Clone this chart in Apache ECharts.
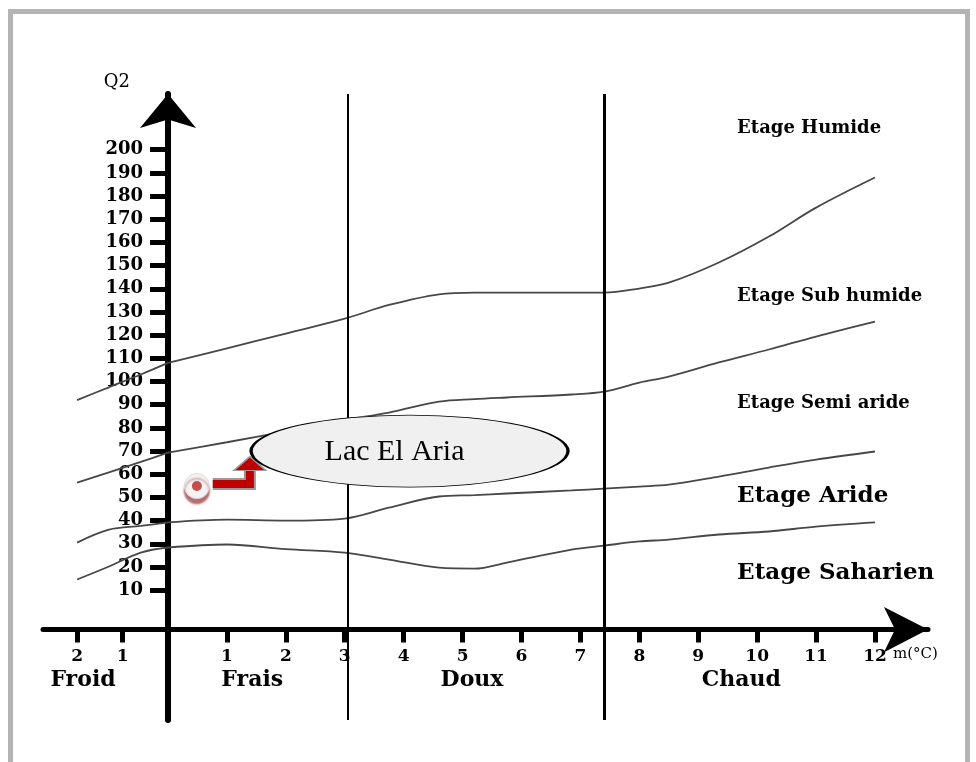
<!DOCTYPE html>
<html>
<head>
<meta charset="utf-8">
<title>Climagramme d'Emberger - Lac El Aria</title>
<script src="https://cdn.jsdelivr.net/npm/echarts@6.0.0/dist/echarts.min.js"></script>
<style>
    html, body { margin: 0; padding: 0; background: #fff; }
    #frame {
        position: absolute;
        left: 8px;
        top: 9px;
        width: 962px;
        height: 800px;
        border: 5px solid #b4b4b4;
        box-sizing: border-box;
    }
    #chart { position: absolute; left: 0; top: 0; width: 976px; height: 762px; }
</style>
</head>
<body>
<div id="frame"></div>
<div id="chart"></div>
<script>
/** m (°C) where the limit curves were read */
const mSamples = [-2, -1.3, -0.6, 0, 1, 2, 3, 3.75, 4.6, 5.2, 5.75, 6.85, 7.4, 8, 8.5, 9.35, 10.2, 11, 12];
/** Q2 of each limit between two stages */
const limitHumideSubHumide = [92, 97.5, 103, 108, 114.3, 120.7, 127.1, 133, 137.6, 138.3, 138.3, 138.3, 138.3, 140.1, 142.6, 151.3, 162.5, 175, 188];
const limitSubHumideSemiAride = [56.4, 60.8, 65.3, 69.3, 73.8, 78.5, 83.4, 86.6, 91.3, 92.4, 93.1, 94.4, 95.6, 99.5, 102.1, 108.2, 113.8, 119.4, 125.8];
const limitSemiArideAride = [30.5, 36.1, 37.7, 39.2, 40.4, 40.0, 40.9, 45.6, 50.4, 51.0, 51.7, 53.0, 53.8, 54.7, 55.5, 59.0, 62.9, 66.3, 69.8];
const limitArideSaharien = [14.6, 20.2, 26.2, 28.4, 29.7, 27.7, 26.2, 23.2, 19.7, 19.3, 21.9, 27.5, 29.2, 31.0, 31.8, 34.0, 35.3, 37.4, 39.2];

/** ticks */
const q2Ticks = [10, 20, 30, 40, 50, 60, 70, 80, 90, 100, 110, 120, 130, 140, 150, 160, 170, 180, 190, 200];
const mTicksCold = [-2, -1];
const mTicksWarm = [1, 2, 3, 4, 5, 6, 7, 8, 9, 10, 11, 12];

/** thermal variants (hiver) */
const thermalLimits = [3.05, 7.4];
const winterNames = ["Froid", "Frais", "Doux", "Chaud"];
const winterCentres = [-1.87, 1.43, 5.16, 9.73];

/** bioclimatic stages */
const stageNames = ["Etage Humide", "Etage Sub humide", "Etage Semi aride", "Etage Aride", "Etage Saharien"];
const stageQ2 = [209.3, 136.9, 90.7, 50.6, 17.4];

/** station */
const stationName = "Lac El Aria";
const stationPoint = [0.49, 54.9];
const calloutPath = [[0.76, 55.8], [1.39, 55.8], [1.39, 62]];
const calloutTip = [1.39, 64.6];
const calloutBubble = [4.1, 70];

// axis ranges
const q2Min = -46;
const q2Max = 224;
const q2OfMAxis = -7;     // the m axis crosses Q2 here
const stageLabelM = 9.66;
const winterLabelQ2 = -28.7;

const gridTop = 94;
const gridBottom = 42;
const plotHeight = 762 - gridTop - gridBottom;
// lift the m axis from the bottom of the plot up to Q2 = q2OfMAxis
const mAxisOffset = -((q2OfMAxis - q2Min) / (q2Max - q2Min)) * plotHeight;

const serifBold = {
    fontFamily: "DejaVu Serif",
    fontWeight: "bold",
    color: "#000",
};
const curveColor = "#474747";

const limits = [
    limitHumideSubHumide,
    limitSubHumideSemiAride,
    limitSemiArideAride,
    limitArideSaharien,
];

function pairs(values, keep) {
    const out = [];
    mSamples.forEach((m, i) => {
        if (keep(m)) out.push([m, values[i]]);
    });
    return out;
}

const series = [];

limits.forEach((values) => {
    // m < 0 part (left panel)
    series.push({
        type: "line",
        xAxisIndex: 0,
        yAxisIndex: 0,
        data: pairs(values, (m) => m <= 0),
        smooth: 0.35,
        symbol: "none",
        silent: true,
        lineStyle: { color: curveColor, width: 1.8 },
    });
    // m > 0 part
    series.push({
        type: "line",
        xAxisIndex: 1,
        yAxisIndex: 1,
        data: pairs(values, (m) => m >= 0),
        smooth: 0.35,
        symbol: "none",
        silent: true,
        lineStyle: { color: curveColor, width: 1.8 },
    });
});

// stage names + vertical limits of the thermal variants
series.push({
    type: "scatter",
    xAxisIndex: 1,
    yAxisIndex: 1,
    symbolSize: 0,
    silent: true,
    itemStyle: { opacity: 1 },
    data: stageNames.map((name, i) => ({
        name: name,
        value: [stageLabelM, stageQ2[i]],
        label: { fontSize: i >= 3 ? 23 : 18 },
    })),
    label: {
        show: true,
        position: "inside",
        align: "left",
        formatter: "{b}",
        ...serifBold,
    },
    markLine: {
        silent: true,
        symbol: "none",
        label: { show: false },
        lineStyle: { color: "#000", type: "solid", opacity: 1 },
        data: thermalLimits.map((m, i) => ({
            xAxis: m,
            lineStyle: { width: i === 0 ? 2 : 3 },
        })),
    },
});

// winter names
winterNames.forEach((name, i) => {
    const cold = winterCentres[i] < 0;
    series.push({
        type: "scatter",
        xAxisIndex: cold ? 0 : 1,
        yAxisIndex: cold ? 0 : 1,
        symbolSize: 0,
        silent: true,
        itemStyle: { opacity: 1 },
        data: [{ name: name, value: [winterCentres[i], winterLabelQ2] }],
        label: {
            show: true,
            position: "inside",
            formatter: "{b}",
            fontSize: 22,
            ...serifBold,
        },
    });
});

// callout arrow
series.push({
    type: "line",
    xAxisIndex: 1,
    yAxisIndex: 1,
    data: calloutPath,
    symbol: "none",
    silent: true,
    z: 4,
    lineStyle: { color: "#9a9a9a", width: 12, cap: "butt", join: "miter" },
});
series.push({
    type: "line",
    xAxisIndex: 1,
    yAxisIndex: 1,
    data: calloutPath,
    symbol: "none",
    silent: true,
    z: 4,
    lineStyle: { color: "#c00000", width: 8, cap: "butt", join: "miter" },
});
series.push({
    type: "scatter",
    xAxisIndex: 1,
    yAxisIndex: 1,
    symbol: "triangle",
    symbolSize: [32, 14],
    silent: true,
    z: 4,
    data: [calloutTip],
    itemStyle: { color: "#c00000", borderColor: "#9a9a9a", borderWidth: 1.5, opacity: 1 },
});

// station point
series.push({
    type: "scatter",
    xAxisIndex: 1,
    yAxisIndex: 1,
    symbol: "circle",
    symbolSize: 25,
    silent: true,
    z: 4,
    data: [stationPoint],
    itemStyle: {
        color: "#f3f3f3",
        borderColor: "#dcdcdc",
        borderWidth: 1,
        opacity: 1,
        shadowColor: "rgba(160, 60, 60, 0.75)",
        shadowOffsetY: 5,
        shadowBlur: 2,
    },
});
series.push({
    type: "scatter",
    xAxisIndex: 1,
    yAxisIndex: 1,
    symbol: "circle",
    symbolSize: 10,
    silent: true,
    z: 5,
    data: [stationPoint],
    itemStyle: { color: "#c44e4e", opacity: 1 },
});

// bubble
series.push({
    type: "scatter",
    xAxisIndex: 1,
    yAxisIndex: 1,
    symbol: "circle",
    symbolSize: [317, 72],
    silent: true,
    z: 6,
    data: [{ name: stationName, value: calloutBubble }],
    itemStyle: { color: "#f0f0f0", borderColor: "#000", borderWidth: 1.6, opacity: 1 },
    label: {
        show: true,
        position: "inside",
        formatter: "{b}",
        offset: [-15, 1],
        fontFamily: "Liberation Serif",
        fontSize: 30,
        color: "#000",
    },
});

const hiddenY = (grid) => ({
    gridIndex: grid,
    type: "value",
    min: q2Min,
    max: q2Max,
    show: false,
});

const option = {
    animation: false,
    backgroundColor: "transparent",
    grid: [
        { left: 43, top: gridTop, width: 125, bottom: gridBottom, containLabel: false, outerBoundsMode: "none" },
        { left: 168, top: gridTop, width: 760, bottom: gridBottom, containLabel: false, outerBoundsMode: "none" },
    ],
    xAxis: [
        {
            gridIndex: 0,
            type: "value",
            min: -2.75,
            max: 0,
            position: "bottom",
            offset: mAxisOffset,
            splitLine: { show: false },
            axisLine: {
                show: true,
                onZero: false,
                lineStyle: { color: "#000", width: 5 },
            },
            axisTick: {
                show: true,
                customValues: mTicksCold,
                length: 13,
                lineStyle: { color: "#000", width: 5 },
            },
            axisLabel: {
                customValues: mTicksCold,
                formatter: (v) => String(Math.abs(v)),
                margin: 19,
                fontSize: 17,
                ...serifBold,
            },
        },
        {
            gridIndex: 1,
            type: "value",
            min: 0,
            max: 12.9,
            position: "bottom",
            offset: mAxisOffset,
            name: "m(°C)",
            nameLocation: "end",
            nameGap: -35,
            nameTextStyle: {
                fontFamily: "DejaVu Serif",
                fontSize: 15,
                color: "#000",
                align: "left",
                verticalAlign: "top",
                padding: [17, 0, 0, 0],
            },
            splitLine: { show: false },
            axisLine: {
                show: true,
                onZero: false,
                symbol: ["none", "arrow"],
                symbolSize: [34, 44],
                lineStyle: { color: "#000", width: 5 },
            },
            axisTick: {
                show: true,
                customValues: mTicksWarm,
                length: 13,
                lineStyle: { color: "#000", width: 5 },
            },
            axisLabel: {
                customValues: mTicksWarm,
                margin: 19,
                fontSize: 17,
                ...serifBold,
            },
        },
    ],
    yAxis: [
        hiddenY(0),
        {
            gridIndex: 1,
            type: "value",
            min: q2Min,
            max: q2Max,
            name: "Q2",
            nameLocation: "end",
            nameGap: 12,
            nameTextStyle: {
                fontFamily: "DejaVu Serif",
                fontSize: 18,
                color: "#000",
                align: "right",
                verticalAlign: "middle",
                padding: [0, 38, 0, 0],
            },
            splitLine: { show: false },
            axisLine: {
                show: true,
                onZero: false,
                symbol: ["none", "arrow"],
                symbolSize: [42, 34],
                lineStyle: { color: "#000", width: 6 },
            },
            axisTick: {
                show: true,
                customValues: q2Ticks,
                length: 18,
                lineStyle: { color: "#000", width: 5 },
            },
            axisLabel: {
                customValues: q2Ticks,
                margin: 25,
                fontSize: 18,
                ...serifBold,
            },
        },
    ],
    series: series,
};

const chart = echarts.init(document.getElementById("chart"), null, { renderer: "canvas" });
chart.setOption(option);
</script>
</body>
</html>
